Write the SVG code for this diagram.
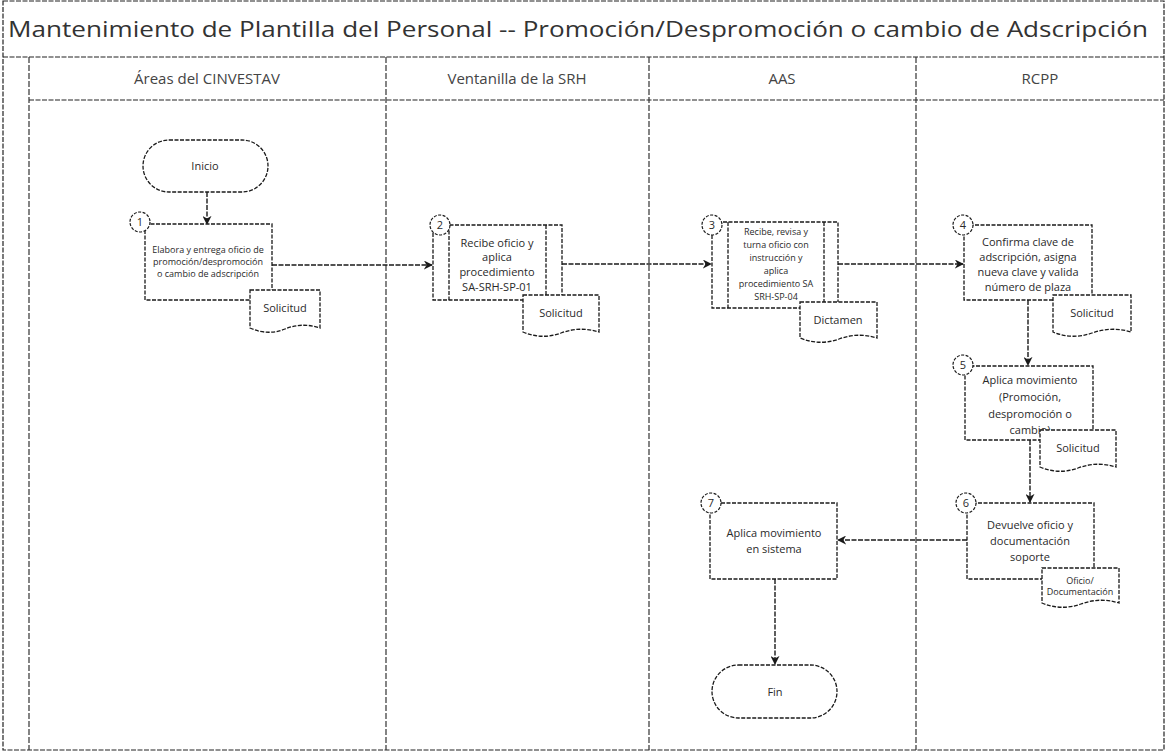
<svg xmlns="http://www.w3.org/2000/svg" width="1165" height="753" viewBox="0 0 1165 753">
<defs>
<style>
.frame{fill:none;stroke:#222;stroke-width:1.2;stroke-dasharray:5 1.5}
.lane{fill:none;stroke:#333;stroke-width:1.2;stroke-dasharray:6 2}
.box{fill:#fff;stroke:#1a1a1a;stroke-width:1.3;stroke-dasharray:4 1.5}
.circ{fill:#fff;stroke:#1a1a1a;stroke-width:1.2;stroke-dasharray:3 1.5}
.conn{fill:none;stroke:#1a1a1a;stroke-width:1.4;stroke-dasharray:5 1.5}
.t{font-family:"Open Sans","Liberation Sans",sans-serif;fill:#2a2a2a;text-anchor:middle}
.title{font-family:"Open Sans","Liberation Sans",sans-serif;fill:#333;font-size:22px}
.hdr{font-size:15px;fill:#444}
.bx{font-size:11px}
.sm{font-size:9px}
.num{font-size:11px}
</style>
<marker id="ah" viewBox="0 0 10 10" refX="9" refY="5" markerWidth="9" markerHeight="9" orient="auto" markerUnits="userSpaceOnUse">
<path d="M0,0 L10,5 L0,10 L3,5 z" fill="#1a1a1a"/>
</marker>
</defs>
<rect width="1165" height="753" fill="#fff"/>

<g id="pool">
<rect class="frame" x="3" y="1" width="1161" height="749"/>
<text class="title" x="8" y="37" textLength="1140" lengthAdjust="spacingAndGlyphs">Mantenimiento de Plantilla del Personal -- Promoción/Despromoción o cambio de Adscripción</text>
<line class="frame" x1="3" y1="57" x2="1164" y2="57"/>
<line class="frame" x1="29" y1="100" x2="1164" y2="100"/>
<line class="lane" x1="29" y1="57" x2="29" y2="750"/>
<line class="lane" x1="386" y1="57" x2="386" y2="750"/>
<line class="lane" x1="649" y1="57" x2="649" y2="750"/>
<line class="lane" x1="916" y1="57" x2="916" y2="750"/>
<text class="t hdr" x="207" y="84">Áreas del CINVESTAV</text>
<text class="t hdr" x="517" y="84">Ventanilla de la SRH</text>
<text class="t hdr" x="782" y="84">AAS</text>
<text class="t hdr" x="1040" y="84">RCPP</text>
</g>

<g id="connectors">
<line class="conn" x1="207" y1="192" x2="207" y2="224" marker-end="url(#ah)"/>
<line class="conn" x1="272" y1="265" x2="432" y2="265" marker-end="url(#ah)"/>
<line class="conn" x1="562" y1="264" x2="711" y2="264" marker-end="url(#ah)"/>
<line class="conn" x1="838" y1="264" x2="963" y2="264" marker-end="url(#ah)"/>
<line class="conn" x1="1028" y1="300" x2="1028" y2="365" marker-end="url(#ah)"/>
<line class="conn" x1="1030" y1="440" x2="1030" y2="502" marker-end="url(#ah)"/>
<line class="conn" x1="967" y1="540" x2="838" y2="540" marker-end="url(#ah)"/>
<line class="conn" x1="775" y1="579" x2="775" y2="664" marker-end="url(#ah)"/>
</g>

<g id="inicio">
<rect class="box" x="143" y="140" width="125" height="52" rx="26"/>
<text class="t bx" x="205" y="170">Inicio</text>
</g>

<g id="n1">
<rect class="box" x="145" y="224" width="127" height="76"/>
<text class="t sm" x="208" y="253">Elabora y entrega oficio de</text>
<text class="t sm" x="208" y="265">promoción/despromoción</text>
<text class="t sm" x="208" y="277">o cambio de adscripción</text>
<circle class="circ" cx="140" cy="222" r="10"/>
<text class="t num" x="140" y="226">1</text>
</g>
<g id="d1">
<path class="box" d="M250,290 H320 V328 Q302,322 285,329 Q268,336 250,328 Z"/>
<text class="t bx" x="285" y="312">Solicitud</text>
</g>

<g id="n2">
<rect class="box" x="433" y="225" width="129" height="75"/>
<line class="box" x1="449" y1="225" x2="449" y2="300"/>
<line class="box" x1="546" y1="225" x2="546" y2="300"/>
<text class="t bx" x="497" y="247">Recibe oficio y</text>
<text class="t bx" x="497" y="261">aplica</text>
<text class="t bx" x="497" y="276">procedimiento</text>
<text class="t bx" x="497" y="291">SA-SRH-SP-01</text>
<circle class="circ" cx="440" cy="225" r="10"/>
<text class="t num" x="440" y="229">2</text>
</g>
<g id="d2">
<path class="box" d="M523,295 H599 V332 Q580,326 561,333 Q542,340 523,332 Z"/>
<text class="t bx" x="561" y="317">Solicitud</text>
</g>

<g id="n3">
<rect class="box" x="712" y="222" width="126" height="86"/>
<line class="box" x1="728" y1="222" x2="728" y2="308"/>
<line class="box" x1="824" y1="222" x2="824" y2="308"/>
<text class="t sm" x="776" y="235">Recibe, revisa y</text>
<text class="t sm" x="776" y="248">turna oficio con</text>
<text class="t sm" x="776" y="261">instrucción y</text>
<text class="t sm" x="776" y="274">aplica</text>
<text class="t sm" x="776" y="287">procedimiento SA</text>
<text class="t sm" x="776" y="300">SRH-SP-04</text>
<circle class="circ" cx="712" cy="225" r="10"/>
<text class="t num" x="712" y="229">3</text>
</g>
<g id="d3">
<path class="box" d="M800,302 H877 V338 Q858,332 839,339 Q820,346 800,338 Z"/>
<text class="t bx" x="838" y="324">Dictamen</text>
</g>

<g id="n4">
<rect class="box" x="964" y="225" width="128" height="75"/>
<text class="t bx" x="1028" y="246">Confirma clave de</text>
<text class="t bx" x="1028" y="261">adscripción, asigna</text>
<text class="t bx" x="1028" y="276">nueva clave y valida</text>
<text class="t bx" x="1028" y="291">número de plaza</text>
<circle class="circ" cx="963" cy="225" r="10"/>
<text class="t num" x="963" y="229">4</text>
</g>
<g id="d4">
<path class="box" d="M1053,295 H1131 V332 Q1112,326 1092,333 Q1072,340 1053,332 Z"/>
<text class="t bx" x="1092" y="317">Solicitud</text>
</g>

<g id="n5">
<rect class="box" x="965" y="366" width="128" height="74"/>
<text class="t bx" x="1030" y="384">Aplica movimiento</text>
<text class="t bx" x="1030" y="401">(Promoción,</text>
<text class="t bx" x="1030" y="418">despromoción o</text>
<text class="t bx" x="1030" y="434">cambio)</text>
<circle class="circ" cx="963" cy="365" r="10"/>
<text class="t num" x="963" y="369">5</text>
</g>
<g id="d5">
<path class="box" d="M1040,430 H1116 V467 Q1097,461 1078,468 Q1059,475 1040,467 Z"/>
<text class="t bx" x="1078" y="452">Solicitud</text>
</g>

<g id="n6">
<rect class="box" x="967" y="503" width="127" height="76"/>
<text class="t bx" x="1030" y="529">Devuelve oficio y</text>
<text class="t bx" x="1030" y="545">documentación</text>
<text class="t bx" x="1030" y="561">soporte</text>
<circle class="circ" cx="966" cy="503" r="10"/>
<text class="t num" x="966" y="507">6</text>
</g>
<g id="d6">
<path class="box" d="M1042,568 H1119 V603 Q1100,597 1081,604 Q1061,611 1042,603 Z"/>
<text class="t sm" x="1080" y="584">Oficio/</text>
<text class="t sm" x="1080" y="595">Documentación</text>
</g>

<g id="n7">
<rect class="box" x="710" y="503" width="127" height="76"/>
<text class="t bx" x="774" y="537">Aplica movimiento</text>
<text class="t bx" x="774" y="553">en sistema</text>
<circle class="circ" cx="711" cy="503" r="10"/>
<text class="t num" x="711" y="507">7</text>
</g>

<g id="fin">
<rect class="box" x="712" y="665" width="125" height="53" rx="26.5"/>
<text class="t bx" x="775" y="696">Fin</text>
</g>
</svg>
